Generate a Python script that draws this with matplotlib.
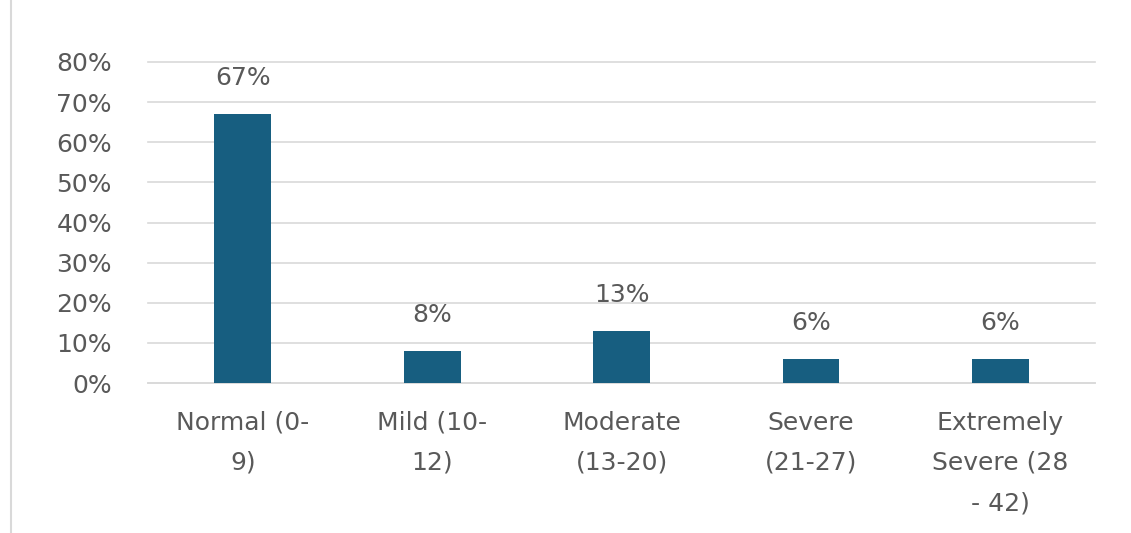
import matplotlib.pyplot as plt
from matplotlib.lines import Line2D
from matplotlib.ticker import PercentFormatter

categories = ['Normal (0-\n9)', 'Mild (10-\n12)', 'Moderate\n(13-20)',
              'Severe\n(21-27)', 'Extremely\nSevere (28\n- 42)']
shares = [67, 8, 13, 6, 6]
yticks = [0, 10, 20, 30, 40, 50, 60, 70, 80]

BAR_COLOR = '#175e80'
TEXT_COLOR = '#595959'
GRID_COLOR = '#d9d9d9'

plt.rcParams.update({'font.family': 'DejaVu Sans', 'font.size': 18})

fig = plt.figure(figsize=(11.31, 5.33), dpi=100)
ax = fig.add_axes([0.1309, 0.2814, 0.8373, 0.6023])

x = range(len(categories))
bars = ax.bar(x, shares, width=0.30, color=BAR_COLOR, zorder=3)
for rect, v in zip(bars, shares):
    ax.annotate(f'{v}%', (rect.get_x() + rect.get_width() / 2, v),
                xytext=(0, 26), textcoords='offset points',
                ha='center', va='center', color=TEXT_COLOR, fontsize=18)

ax.set_xlim(-0.5, len(categories) - 0.5)
ax.set_ylim(0, 80)
ax.set_yticks(yticks)
ax.yaxis.set_major_formatter(PercentFormatter(decimals=0))
ax.set_xticks(list(x))
ax.set_xticklabels(categories)
for lbl in ax.get_xticklabels():
    lbl.set_linespacing(1.85)
    lbl.set_verticalalignment('top')

ax.tick_params(axis='y', length=0, pad=26, colors=TEXT_COLOR, labelsize=18)
ax.tick_params(axis='x', length=0, pad=20, colors=TEXT_COLOR, labelsize=18)
ax.grid(axis='y', color=GRID_COLOR, linewidth=1.2, zorder=0)
for gl in ax.yaxis.get_gridlines():
    gl.set_clip_on(False)
for side in ['top', 'right', 'left']:
    ax.spines[side].set_visible(False)
ax.spines['bottom'].set_color(GRID_COLOR)
ax.spines['bottom'].set_linewidth(1.2)

# thin border on the left edge of the chart area
fig.add_artist(Line2D([0.0093, 0.0093], [0.0, 1.0], color=GRID_COLOR,
                      linewidth=1.5, transform=fig.transFigure))

fig.savefig('out.png', dpi=100)
